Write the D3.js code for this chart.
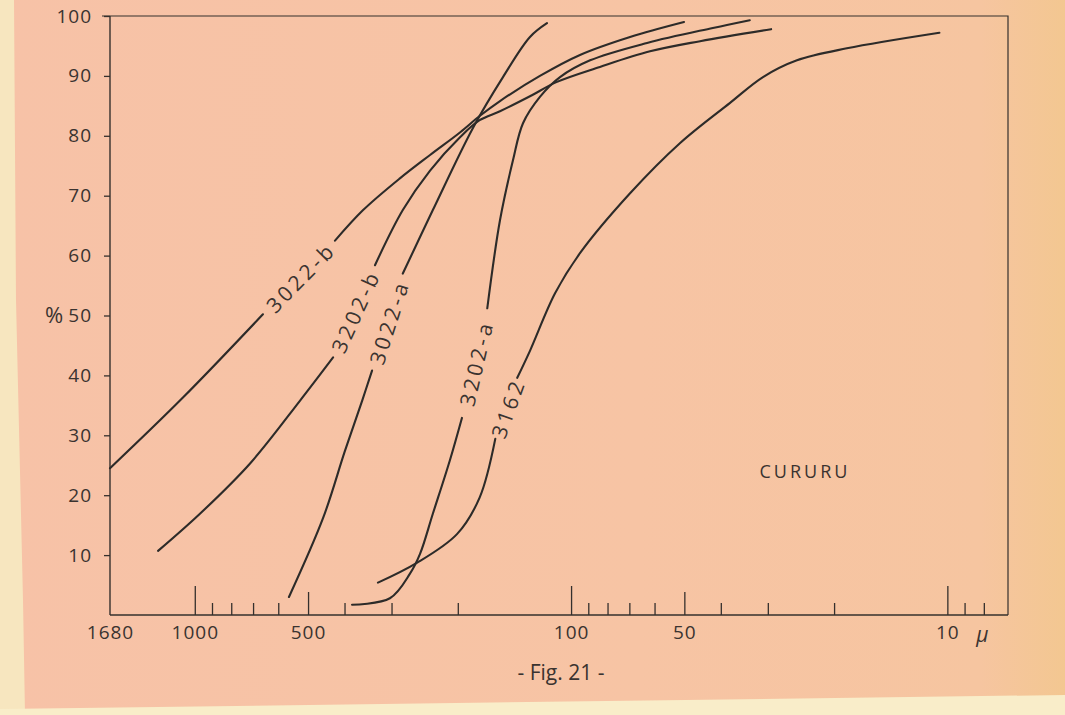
<!DOCTYPE html>
<html>
<head>
<meta charset="UTF-8">
<title>Fig. 21 - Cururu</title>
<script src="https://cdn.jsdelivr.net/npm/d3@7"></script>
<style>
  html, body { margin: 0; padding: 0; background: #f6c2a5; }
  svg { display: block; }
  text { font-family: "Open Sans", "DejaVu Sans", sans-serif; fill: #3a3330; }
</style>
</head>
<body>
<div id="chart"></div>
<script>
// grain size (µ) on a reversed log axis, cumulative % on the left
const majorTicks = [1000, 100, 10];
const mediumTicks = [500, 50];
const minorTicks = [900, 800, 700, 600, 400, 300, 200, 90, 80, 70, 60, 40, 30, 20, 9, 8];
const xLabels = [1680, 1000, 500, 100, 50, 10];
const yTicks = [10, 20, 30, 40, 50, 60, 70, 80, 90, 100];

const seriesNames = ["3022-b", "3202-b", "3022-a", "3202-a", "3162"];
// [µ, %]; the label sits in the gap after labelAt
const s3022b = [[1680, 24.5], [1075, 36.3], [659, 50.2], [424, 62.5], [357, 67.6], [285, 72.9], [237, 76.8],
  [197, 80.6], [175, 83.3], [154.5, 85.8], [121, 90.0], [94.7, 93.5], [69.7, 96.5], [50.1, 99.0]];
const s3202b = [[1252, 10.7], [969, 16.9], [713, 25.3], [525, 35.8], [429, 43.0], [332, 58.4], [280, 67.6],
  [237, 74.2], [197, 79.8], [175, 82.6], [154.5, 84.1], [128.6, 86.6], [109, 89.0], [83.8, 91.5],
  [61.7, 94.1], [45.4, 95.8], [29.4, 97.8]];
const s3022a = [[562, 3.0], [456, 16.2], [399, 27.4], [359, 35.8], [338, 40.8], [280, 57.0], [233, 67.6],
  [182, 81.4], [151.7, 89.8], [128.6, 96.5], [115.9, 98.8]];
const s3202a = [[382, 1.7], [303, 2.8], [268, 6.9], [252, 10.2], [233, 16.9], [210, 25.8], [195, 32.9],
  [167, 51.2], [154.5, 65.9], [142.7, 75.9], [134.2, 82.1], [121, 86.5], [107, 89.8], [89, 92.6],
  [62.8, 95.5], [42, 98.0], [33.5, 99.3]];
const s3162 = [[326, 5.4], [257, 8.7], [201, 13.5], [175, 19.6], [159, 29.4], [139, 39.6], [128.6, 44.1],
  [110.3, 53.7], [94.7, 60.4], [69.7, 70.4], [51.3, 78.8], [37.8, 85.5], [30.9, 89.8], [25.1, 92.6],
  [18.5, 94.6], [10.5, 97.2]];
const seriesData = [s3022b, s3202b, s3022a, s3202a, s3162];
const labelAt = [2, 4, 4, 6, 4];

const W = 1065, H = 715;
const ink = "#35302d";
const fontFam = "Open Sans, DejaVu Sans, sans-serif";

const svg = d3.select("#chart").append("svg")
    .attr("width", W)
    .attr("height", H);

// paper
const defs = svg.append("defs");
const grad = defs.append("linearGradient").attr("id", "paper").attr("x1", 0).attr("x2", 1).attr("y1", 0).attr("y2", 0);
grad.append("stop").attr("offset", "0%").attr("stop-color", "#f7c2a7");
grad.append("stop").attr("offset", "60%").attr("stop-color", "#f7c4a4");
grad.append("stop").attr("offset", "92%").attr("stop-color", "#f6c5a0");
grad.append("stop").attr("offset", "100%").attr("stop-color", "#f3c791");
svg.append("rect").attr("width", W).attr("height", H).attr("fill", "url(#paper)");
svg.append("polygon").attr("points", "0,0 14,0 16,300 23,600 25,715 0,715").attr("fill", "#f7e6bf");
svg.append("polygon").attr("points", "0,709 1065,695 1065,715 0,715").attr("fill", "#f9edc9");

const x = d3.scaleLog().domain([1680, 6.9]).range([110, 1008]);
const y = d3.scaleLinear().domain([0, 100]).range([615, 16]);
const x0 = x.range()[0], x1 = x.range()[1];
const y0 = y(0), yTop = y(100);

// frame
svg.append("path")
    .attr("d", `M${x0 - 8},${yTop} L${x1},${yTop} L${x1},${y0}`)
    .attr("fill", "none").attr("stroke", ink).attr("stroke-width", 1.2);

// x axis, ticks point up into the plot
function xTicks(values, len) {
  const g = svg.append("g")
      .attr("transform", `translate(0,${y0})`)
      .call(d3.axisBottom(x).tickValues(values).tickSize(-len).tickFormat(""));
  g.select(".domain").remove();
  g.selectAll("line").attr("stroke", ink).attr("stroke-width", 1.3);
}
xTicks(majorTicks, 29);
xTicks(mediumTicks, 23);
xTicks(minorTicks, 12);

svg.append("line")
    .attr("x1", x0).attr("x2", x1).attr("y1", y0).attr("y2", y0)
    .attr("stroke", ink).attr("stroke-width", 1.4);

const xl = svg.append("g")
    .attr("transform", `translate(0,${y0})`)
    .call(d3.axisBottom(x).tickValues(xLabels).tickSize(0).tickPadding(11).tickFormat(d => d));
xl.select(".domain").remove();
xl.selectAll("text").attr("font-size", 19).attr("letter-spacing", 1).attr("font-family", fontFam).attr("fill", ink);

svg.append("text")
    .attr("x", x(10) + 29).attr("y", y0 + 27)
    .attr("font-size", 21).attr("font-style", "italic")
    .attr("font-family", "DejaVu Serif, serif")
    .text("µ");

// y axis
const yl = svg.append("g")
    .attr("transform", `translate(${x0},0)`)
    .call(d3.axisLeft(y).tickValues(yTicks).tickSize(6).tickPadding(12));
yl.select(".domain").attr("stroke", ink).attr("stroke-width", 1.4).attr("d", `M0,${yTop}V${y0}`);
yl.selectAll("line").attr("stroke", ink).attr("stroke-width", 1.3);
yl.selectAll("text").attr("font-size", 19).attr("letter-spacing", 1).attr("font-family", fontFam).attr("fill", ink);

svg.append("text")
    .attr("x", 54).attr("y", y(50))
    .attr("dy", "0.36em")
    .attr("text-anchor", "middle")
    .attr("font-size", 22)
    .text("%");

// curves, broken where their labels sit
const line = d3.line()
    .x(d => x(d[0]))
    .y(d => y(d[1]))
    .curve(d3.curveCatmullRom.alpha(0.5));

seriesData.forEach((pts, i) => {
  const k = labelAt[i];
  [pts.slice(0, k + 1), pts.slice(k + 1)].forEach(seg => {
    svg.append("path")
        .attr("d", line(seg))
        .attr("fill", "none")
        .attr("stroke", "#2d2b29")
        .attr("stroke-width", 2.1)
        .attr("stroke-linecap", "round");
  });
  const a = pts[k], b = pts[k + 1];
  const ax = x(a[0]), ay = y(a[1]), bx = x(b[0]), by = y(b[1]);
  const ang = Math.atan2(by - ay, bx - ax) * 180 / Math.PI;
  svg.append("text")
      .attr("transform", `translate(${(ax + bx) / 2 + 2},${(ay + by) / 2})rotate(${ang})`)
      .attr("text-anchor", "middle")
      .attr("dy", "0.36em")
      .attr("font-size", 21)
      .attr("letter-spacing", 3.5)
      .text(seriesNames[i]);
});

svg.append("text")
    .attr("x", 805).attr("y", 472)
    .attr("dy", "0.36em")
    .attr("text-anchor", "middle")
    .attr("font-size", 18)
    .attr("letter-spacing", 3)
    .text("CURURU");

svg.append("text")
    .attr("x", 561).attr("y", 672)
    .attr("dy", "0.36em")
    .attr("text-anchor", "middle")
    .attr("font-size", 21)
    .text("- Fig. 21 -");
</script>
</body>
</html>
